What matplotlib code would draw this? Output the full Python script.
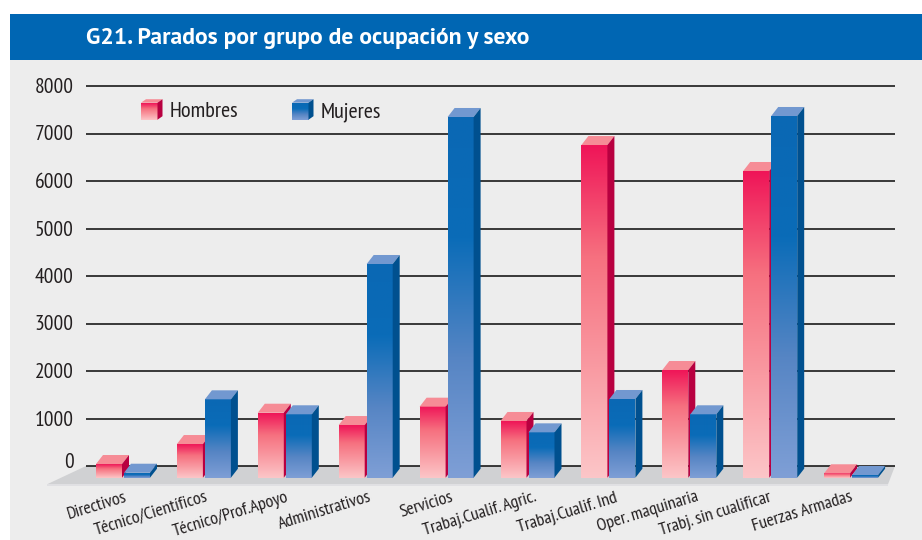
import numpy as np
import matplotlib
matplotlib.use('Agg')
import matplotlib.pyplot as plt
from matplotlib.colors import LinearSegmentedColormap
from matplotlib.patches import Polygon, Rectangle

# datos
categorias = ['Directivos', 'Técnico/Científicos', 'Técnico/Prof.Apoyo', 'Administrativos',
              'Servicios', 'Trabaj.Cualif. Agric.', 'Trabaj.Cualif. Ind', 'Oper. maquinaria',
              'Trabj. sin cualificar', 'Fuerzas Armadas']
hombres = [288, 709, 1368, 1109, 1495, 1194, 7004, 2267, 6457, 93]
mujeres = [105, 1650, 1335, 4499, 7594, 955, 1657, 1335, 7615, 57]
ticks = [0, 1000, 2000, 3000, 4000, 5000, 6000, 7000, 8000]
titulo = 'G21. Parados por grupo de ocupación y sexo'

fuente = ['PT Sans Narrow', 'Liberation Sans']
fuente_titulo = ['PT Sans', 'Lato']

# escala: 1 categoria = 80.9 px, 1000 parados = 47.5 px
W, H = 922, 540
fig = plt.figure(figsize=(W/100, H/100), dpi=100, facecolor='white')
x0, y0 = 96.0, 477.7
ux, uy = 80.9, 0.0475
ax = fig.add_axes([0, 0, 1, 1])
xlim = (-x0/ux, (W-x0)/ux)
ylim = (-(H-y0)/uy, y0/uy)
ax.axis('off')

px = 1/ux       # un pixel en x
py = 1/uy       # un pixel en y
ancho = 26*px
paso = 28*px
dx, dy = 7*px, 9*py      # profundidad de las barras
fondo = 11.7*py          # el eje y esta en la pared del fondo

cmap_h = LinearSegmentedColormap.from_list('h', ['#ef1558', '#f6707f', '#f99aa2', '#fcc6c8'])
cmap_m = LinearSegmentedColormap.from_list('m', ['#0a68b4', '#0a6cb8', '#5685c4', '#7f9fd6'])
grad = np.linspace(0, 1, 256).reshape(-1, 1)


def caja(x, base, w, alto, cmap, c_top, c_side, ddx=dx, ddy=dy):
    ax.imshow(grad, cmap=cmap, extent=(x, x+w, base, base+alto), aspect='auto', zorder=5, interpolation='bilinear')
    top = base+alto
    ax.add_patch(Polygon([(x, top), (x+ddx, top+ddy), (x+w+ddx, top+ddy), (x+w, top)], fc=c_top, ec='none', zorder=5))
    ax.add_patch(Polygon([(x+w, base), (x+w+ddx, base+ddy), (x+w+ddx, top+ddy), (x+w, top)], fc=c_side, ec='none', zorder=5))


# cabecera y panel
ax.add_patch(Rectangle((xlim[0]+10*px, ylim[0]), (W-10)*px, (H-60)*py, fc='#ededed', ec='none', zorder=0))
ax.add_patch(Rectangle((xlim[0]+10*px, ylim[1]-60*py), (W-10)*px, 46*py, fc='#0066b3', ec='none', zorder=1))
ax.text(-10*px, ylim[1]-44*py, titulo, color='white', fontsize=17, family=fuente_titulo, fontweight='bold', va='baseline', zorder=2)

# suelo
ax.add_patch(Polygon([(-49*px, -6.6*py), (-10*px, fondo), (799*px, fondo), (792*px, -6.6*py)], fc='#d0d1d3', ec='none', zorder=2))
ax.add_patch(Rectangle((-49*px, -7.8*py), 841*px, 1.2*py, fc='#e0e0e3', ec='none', zorder=2))

# lineas y etiquetas del eje
ax.hlines([t+fondo for t in ticks], -10*px, 799*px, color='#1a1a1a', lw=1.2, zorder=3)
for t in ticks:
    # el 0 esta algo mas arriba que su linea
    ajuste_y = 4*py if t == 0 else -1.5*py
    ax.text(-22.5*px, t+fondo+ajuste_y, str(t), ha='right', va='center', fontsize=15.5, family=fuente, color='#231f20', zorder=4)

# barras
for i in range(len(categorias)):
    caja(i, 0, ancho, hombres[i], cmap_h, '#f68c96', '#b80040')
    caja(i+paso, 0, ancho, mujeres[i], cmap_m, '#7298d0', '#00508f')

# etiquetas de categorias
ajuste = [1, 1, 1, 3, 4, 6, 6, 7, -2, -1]
for i, c in enumerate(categorias):
    ax.text(i+(27+ajuste[i])*px, -11.5*py, c, rotation=17, rotation_mode='anchor', ha='right', va='top',
            fontsize=13, family=fuente, color='#231f20', zorder=4)

# leyenda
ley_y = (y0-119.7)*py
caja(45*px, ley_y, 16.5*px, 17*py, cmap_h, '#f68c96', '#b80040', 5*px, 3.5*py)
caja(196*px, ley_y, 16.5*px, 17*py, cmap_m, '#7298d0', '#00508f', 5*px, 3.5*py)
ax.text(74*px, ley_y+8*py, 'Hombres', va='center', fontsize=16, family=fuente, color='#231f20', zorder=6)
ax.text(225*px, ley_y+8*py, 'Mujeres', va='center', fontsize=16, family=fuente, color='#231f20', zorder=6)

ax.set_xlim(xlim)
ax.set_ylim(ylim)
fig.savefig('out.png', dpi=100)
